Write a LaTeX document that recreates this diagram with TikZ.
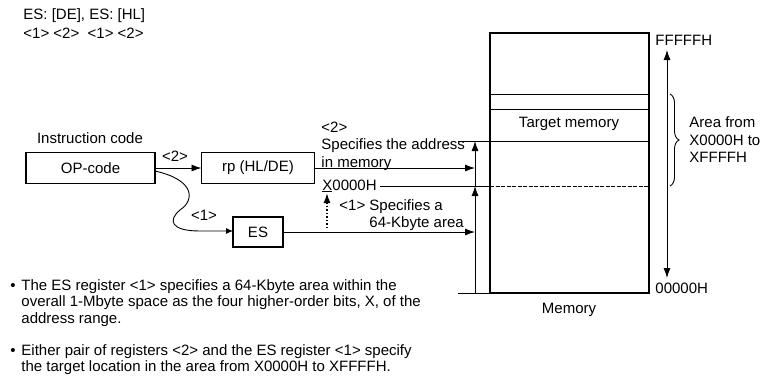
\documentclass[tikz,border=0pt]{standalone}
\usepackage{fontspec}
\setmainfont{Liberation Sans}
\usetikzlibrary{arrows.meta}
\usetikzlibrary{decorations.pathreplacing}

\begin{document}
\begin{tikzpicture}[x=1pt, y=-1pt, line width=0.9pt, font=\fontsize{15}{17.5}\selectfont]
\tikzset{
        regbox/.style={draw, line width=1.8pt, inner sep=0pt, outer sep=0pt, minimum height=31pt},
        txt/.style={inner sep=0pt, align=left},
        note/.style={inner sep=0pt, align=left, anchor=north west, font=\fontsize{15}{16.5}\selectfont},
        arr/.style={-{Latex[length=10pt,width=7pt]}},
        smallarr/.style={-{Latex[length=7pt,width=6pt]}},
        dblarr/.style={{Latex[length=10pt,width=7pt]}-{Latex[length=10pt,width=7pt]}},
    }
  \useasboundingbox (0,0) rectangle (762,383);
  \node[txt, anchor=west] (syntax) at (23,16) {ES: [DE], ES: [HL]};
  \node[txt, anchor=west] (fields) at (23,33) {<1> <2>\ \ <1> <2>};

  % registers
  \node[txt] (instr) at (90,138) {Instruction code};
  \node[regbox, minimum width=129pt] (op) at (90.5,168) {OP-code};
  \node[regbox, minimum width=113pt] (rp) at (258,168) {rp (HL/DE)};
  \node[regbox, minimum width=50pt, minimum height=30pt] (es) at (258,232) {ES};
  \node[txt] (sel2) at (175,156) {<2>};
  \node[txt] (sel1) at (204,215) {<1>};
  \draw[arr] (op.east) -- (rp.west);
  \draw[smallarr] ([yshift=-3pt]op.east) .. controls (195,180) and (195,200) .. (180,210)
      .. controls (168,220) and (170,231) .. (200,231) -- (es.west |- 0,231);

  % memory
  \node[draw, line width=2pt, outer sep=0pt, minimum width=159pt, minimum height=260pt] (mem) at (569.5,163) {};
  \node[txt] (memname) at (569,310) {Memory};
  \node[txt] (target) at (569,124) {Target memory};
  \draw (mem.west |- 0,94) -- (mem.east |- 0,94);
  \draw (mem.west |- 0,109) -- (mem.east |- 0,109);
  \coordinate (hi) at (458,141);
  \coordinate (lo) at (458,293);
  \coordinate (barhi) at (475,141);
  \coordinate (barmid) at (475,186);
  \coordinate (barlo) at (475,293);
  \draw (hi) -- (mem.east |- hi);
  \draw (lo) -- (mem.south west);
  \node[txt, anchor=west] (xbase) at (322,186) {\underline{X}0000H};
  \draw ([xshift=3pt]xbase.east |- barmid) -- (mem.west |- barmid);
  \draw[dash pattern=on 4pt off 1.5pt] (mem.west |- barmid) -- (mem.east |- barmid);
  \draw[arr] (barlo) -- (barmid);
  \draw[arr] (barmid) -- (barhi);
  \draw[arr] (rp.east) -- (rp.east -| barmid);
  \draw[arr] (es.east) -- (es.east -| barmid);
  \draw[arr, dotted, line width=1.5pt] (327,228) -- (327,193);
  \node[txt, anchor=west] (addr) at (321,146) {<2>\\Specifies the address\\in memory};
  \node[txt, anchor=west] (area) at (339,215) {<1> Specifies a\\\phantom{<1> }64-Kbyte area};

  % address range
  \node[txt, anchor=west] (top) at (655,40) {FFFFFH};
  \node[txt, anchor=west] (bot) at (655,288) {00000H};
  \draw[dblarr] (667,50) -- (667,278);
  \draw[decorate, decoration={brace, amplitude=9pt}] (670,94) -- (670,186);
  \node[txt, anchor=west] (areatxt) at (689,140) {Area from\\X0000H to\\XFFFFH};

  % notes
  \node[note] (b1) at (10,279) {\vphantom{Th}\textbullet};
  \node[note] (note1) at (21,279) {The ES register <1> specifies a 64-Kbyte area within the\\overall 1-Mbyte space as the four higher-order bits, X, of the\\address range.};
  \node[note] (b2) at (10,344) {\vphantom{Th}\textbullet};
  \node[note] (note2) at (21,344) {Either pair of registers <2> and the ES register <1> specify\\the target location in the area from X0000H to XFFFFH.};
\end{tikzpicture}
\end{document}
